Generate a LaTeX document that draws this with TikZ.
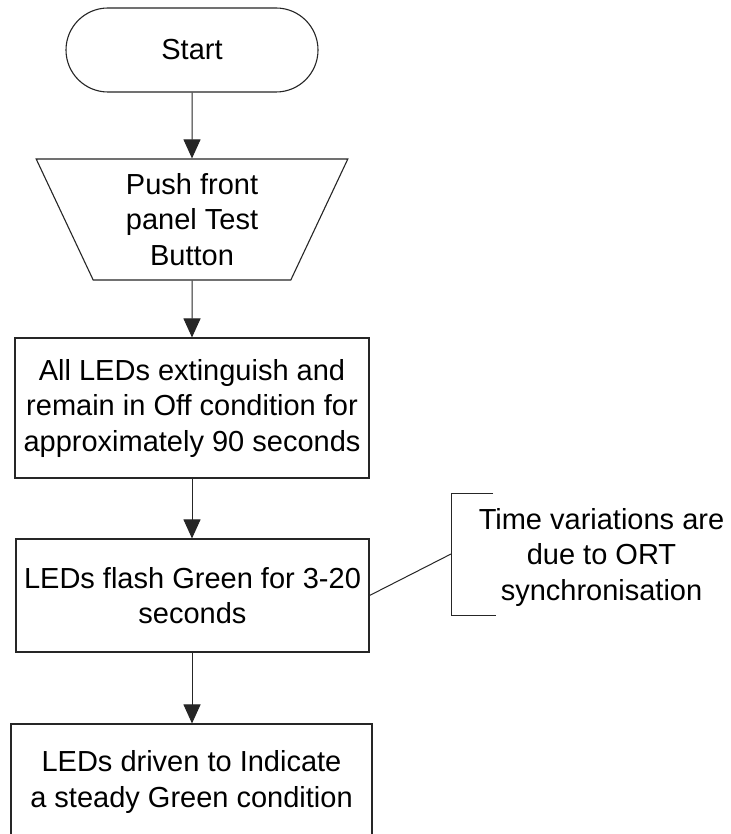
\documentclass[tikz,border=0pt]{standalone}
\usepackage{fontspec}
\setmainfont{Liberation Sans}
\usetikzlibrary{shapes.geometric,arrows.meta}

\tikzset{
  every node/.style={font=\fontsize{29}{35.5}\selectfont, align=center, inner sep=0pt},
  outline/.style={draw=black!85, line width=1.1pt, fill=white},
  terminal/.style={outline, rectangle, rounded corners=42pt, minimum width=252pt, minimum height=84pt},
  manualin/.style={outline, trapezium, shape border rotate=180, trapezium angle=67.55,
                   trapezium stretches=true, minimum width=312pt, minimum height=121pt},
  process/.style={outline, rectangle},
  flow/.style={draw=black!85, line width=1pt, -{Triangle[length=19pt,width=17pt]}},
  note/.style={draw=black!85, line width=1pt}
}

\begin{document}
\begin{tikzpicture}[x=1pt, y=-1pt]
  \clip (0,0) rectangle (730,834);
  \fill[white] (0,0) rectangle (730,834);

  % flowchart steps
  \node[terminal] (start) at (192,50) {Start};
  \node[manualin] (push) at (192,219.5) {Push front\\panel Test\\Button};
  \node[process, minimum width=354pt, minimum height=140pt] (off) at (192,408)
    {All LEDs extinguish and\\remain in Off condition for\\approximately 90 seconds};
  \node[process, minimum width=353pt, minimum height=113pt] (flash) at (192.5,595.5)
    {LEDs flash Green for 3-20\\seconds};
  \node[process, minimum width=361pt, minimum height=116pt] (steady) at (191.5,782)
    {LEDs driven to Indicate\\a steady Green condition};

  % connectors
  \draw[flow] (start.south) -- (push.north);
  \draw[flow] (push.south) -- (off.north);
  \draw[flow] (off.south) -- (flash.north -| off.south);
  \draw[flow] (flash.south -| off.south) -- (steady.north -| off.south);

  % annotation
  \node (remark) at (601.5,557) {Time variations are\\due to ORT\\synchronisation};
  \coordinate (bTop)  at (493,493);
  \coordinate (bTL)   at (451,493);
  \coordinate (bMid)  at (451,554);
  \coordinate (bBL)   at (451,615);
  \coordinate (bBot)  at (496,615);
  \draw[note] (bTop) -- (bTL) -- (bBL) -- (bBot);
  \draw[note] (flash.east) -- (bMid);
\end{tikzpicture}
\end{document}
